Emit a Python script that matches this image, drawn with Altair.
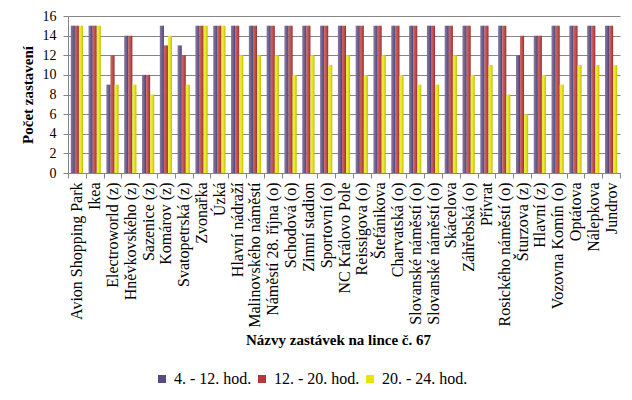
import altair as alt
import pandas as pd

stops = [
    "Avion Shopping Park", "Ikea", "Electroworld (z)", "Hněvkovského (z)",
    "Sazenice (z)", "Komárov (z)", "Svatopetrská (z)", "Zvonařka", "Úzká",
    "Hlavní nádraží", "Malinovského náměstí", "Náměstí 28. října (o)",
    "Schodová (o)", "Zimní stadion", "Sportovní (o)", "NC Královo Pole",
    "Reissigova (o)", "Štefánikova", "Charvatská (o)", "Slovanské náměstí (o)",
    "Slovanské náměstí  (o)", "Skácelova", "Záhřebská (o)", "Přívrat",
    "Rosického náměstí (o)", "Šturzova (z)", "Hlavní  (z)", "Vozovna Komín (o)",
    "Optátova", "Nálepkova", "Jundrov",
]
s_4_12 = [15, 15, 9, 14, 10, 15, 13, 15, 15, 15, 15, 15, 15, 15, 15, 15,
          15, 15, 15, 15, 15, 15, 15, 15, 15, 12, 14, 15, 15, 15, 15]
s_12_20 = [15, 15, 12, 14, 10, 13, 12, 15, 15, 15, 15, 15, 15, 15, 15, 15,
           15, 15, 15, 15, 15, 15, 15, 15, 15, 14, 14, 15, 15, 15, 15]
s_20_24 = [15, 15, 9, 9, 8, 14, 9, 15, 15, 12, 12, 12, 10, 12, 11, 12,
           10, 12, 10, 9, 9, 12, 10, 11, 8, 6, 10, 9, 11, 11, 11]
series = ["4. - 12. hod.", "12. - 20. hod.", "20. - 24. hod."]
colors = ["#5A4A80", "#B83636", "#E6E600"]
y_ticks = [0, 2, 4, 6, 8, 10, 12, 14, 16]

rows = []
for i, st in enumerate(stops):
    for name, vals in zip(series, [s_4_12, s_12_20, s_20_24]):
        rows.append({"stop": st, "series": name, "value": vals[i]})
df = pd.DataFrame(rows)

FONT = "Liberation Serif"
GREY = "#858585"
PLOT_H = 157

x_enc = alt.X(
    "stop:N", sort=stops,
    scale=alt.Scale(domain=stops, paddingInner=0, paddingOuter=0),
    axis=alt.Axis(
        title="Názvy zastávek na lince č. 67", labelAngle=-90,
        tickBand="extent", tickSize=5, labelPadding=4,
        labelFont=FONT, labelFontSize=16, labelColor="black",
        titleFont=FONT, titleFontSize=15, titleFontWeight="bold",
        titleColor="black", titleX=270, titleY=171,
        titleBaseline="alphabetic", domainColor=GREY, tickColor=GREY,
        labelOverlap=False, labelLimit=300,
    ),
)
xoff_enc = alt.XOffset(
    "series:N", scale=alt.Scale(domain=series, paddingOuter=0.7, paddingInner=0)
)
y_enc = alt.Y(
    "value:Q", scale=alt.Scale(domain=[0, 16], nice=False),
    axis=alt.Axis(
        values=y_ticks, title="Počet zastavení", tickSize=5, labelPadding=7,
        labelFont=FONT, labelFontSize=14, labelColor="black",
        titleFont=FONT, titleFontSize=15, titleFontWeight="bold",
        titleColor="black", titleX=-33, titleY=PLOT_H / 2,
        domainColor=GREY, tickColor=GREY, gridColor=GREY, gridOpacity=1,
    ),
)

bars = alt.Chart(df).mark_bar().encode(
    x=x_enc, xOffset=xoff_enc, y=y_enc,
    color=alt.Color(
        "series:N", scale=alt.Scale(domain=series, range=colors),
        legend=alt.Legend(
            title=None, orient="none", direction="horizontal",
            legendX=86, legendY=355, symbolType="square", symbolSize=64,
            symbolStrokeWidth=0, labelFont=FONT, labelFontSize=16,
            labelColor="black", columnPadding=2,
        ),
    ),
)

sheen = alt.Chart(df).mark_bar(
    fill=alt.Gradient(
        gradient="linear", x1=0, x2=1, y1=0, y2=0,
        stops=[
            alt.GradientStop(offset=0, color="rgba(255,255,255,0.25)"),
            alt.GradientStop(offset=0.45, color="rgba(255,255,255,0.15)"),
            alt.GradientStop(offset=1, color="rgba(0,0,0,0.18)"),
        ],
    )
).encode(x=x_enc, xOffset=xoff_enc, y=y_enc)

chart = alt.layer(bars, sheen).properties(
    width=552, height=PLOT_H,
    autosize=alt.AutoSizeParams(type="none"),
    padding={"left": 60, "top": 8, "right": 4, "bottom": 219},
).configure(font=FONT).configure_view(stroke=None).configure_axisX(grid=False)

chart.save("out.html", embed_options={"renderer": "svg", "actions": False})
